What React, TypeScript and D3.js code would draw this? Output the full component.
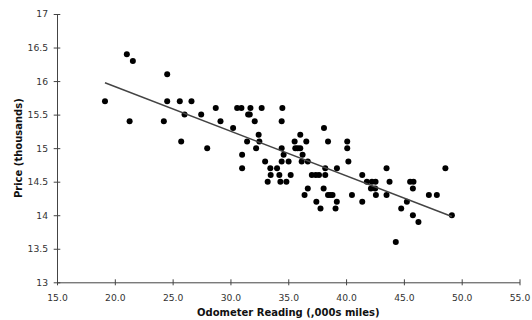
import { useEffect, useRef } from 'react'
import * as d3 from 'd3'

// odometer reading (,000s miles) and price (thousands)
const odometer = [
  19.15, 21.04, 21.56, 21.28, 24.53, 24.24, 24.53, 25.62, 25.74, 26.63,
  26.03, 27.47, 27.99, 28.73, 29.14, 30.23, 30.58, 30.95, 31.73, 32.7,
  31.53, 31.67, 32.1, 34.49, 34.43, 32.44, 31.44, 32.5, 32.22, 31.01,
  31.01, 33.0, 33.45, 34.03, 33.48, 34.23, 33.22, 34.32, 34.84, 35.21,
  34.43, 34.6, 34.43, 35.03, 36.04, 35.55, 36.56, 35.61, 35.81, 36.04,
  36.24, 36.16, 36.69, 38.09, 38.44, 37.04, 37.38, 37.66, 38.2, 38.2,
  39.21, 36.69, 36.41, 38.06, 38.44, 38.64, 38.83, 37.43, 37.79, 39.2,
  39.09, 40.1, 40.1, 40.2, 40.51, 41.4, 41.4, 41.8, 42.24, 42.55,
  42.15, 42.52, 42.58, 43.5, 43.76, 43.5, 45.54, 45.83, 45.78, 45.26,
  44.77, 45.78, 46.26, 47.16, 47.85, 48.59, 49.15, 44.3,
]
const price = [
  15.7, 16.4, 16.3, 15.4, 16.1, 15.4, 15.7, 15.7, 15.1, 15.7,
  15.5, 15.5, 15.0, 15.6, 15.4, 15.3, 15.6, 15.6, 15.6, 15.6,
  15.5, 15.5, 15.4, 15.6, 15.4, 15.2, 15.1, 15.1, 15.0, 14.9,
  14.7, 14.8, 14.7, 14.7, 14.6, 14.6, 14.5, 14.5, 14.5, 14.6,
  15.0, 14.9, 14.8, 14.8, 15.2, 15.1, 15.1, 15.0, 15.0, 15.0,
  14.9, 14.8, 14.8, 15.3, 15.1, 14.6, 14.6, 14.6, 14.6, 14.7,
  14.7, 14.4, 14.3, 14.4, 14.3, 14.3, 14.3, 14.2, 14.1, 14.2,
  14.1, 15.1, 15.0, 14.8, 14.3, 14.6, 14.2, 14.5, 14.5, 14.5,
  14.4, 14.4, 14.3, 14.7, 14.5, 14.3, 14.5, 14.5, 14.4, 14.2,
  14.1, 14.0, 13.9, 14.3, 14.3, 14.7, 14.0, 13.6,
]

// fitted trend line (price = intercept + slope * odometer)
const trendIntercept = 17.249
const trendSlope = -0.0665

const xTicks = [15, 20, 25, 30, 35, 40, 45, 50, 55]
const yTicks = [13, 13.5, 14, 14.5, 15, 15.5, 16, 16.5, 17]

const W = 532
const H = 320

export default function App() {
  const svgRef = useRef<SVGSVGElement | null>(null)

  useEffect(() => {
    if (!svgRef.current) return
    const svg = d3.select(svgRef.current)
    svg.selectAll('*').remove()

    const left = 57, right = 519.5, top = 14, bottom = 282.3
    const x = d3.scaleLinear().domain([15, 55]).range([left, right])
    const y = d3.scaleLinear().domain([13, 17]).range([bottom, top])
    const font = "'DejaVu Sans', Verdana, sans-serif"
    const axisColor = '#444'

    // x axis, ticks cross the line
    const xa = svg.append('g').attr('transform', `translate(0,${bottom})`)
      .call(d3.axisBottom(x).tickValues(xTicks).tickSize(3).tickSizeOuter(0).tickFormat(d3.format('.1f')))
    xa.select('.domain').attr('stroke', axisColor)
    xa.selectAll('line').attr('stroke', axisColor).attr('y1', -3)
    xa.selectAll('text').attr('font-family', font).attr('font-size', 9.2).attr('fill', '#333').attr('y', 12)

    // y axis
    const ya = svg.append('g').attr('transform', `translate(${left},0)`)
      .call(d3.axisLeft(y).tickValues(yTicks).tickSize(3.3).tickSizeOuter(0).tickFormat(d => String(d)))
    ya.select('.domain').attr('stroke', axisColor)
    ya.selectAll('line').attr('stroke', axisColor).attr('x1', 3.3)
    ya.selectAll('text').attr('font-family', font).attr('font-size', 9.2).attr('fill', '#333').attr('x', -9)

    // points
    svg.append('g').selectAll('circle').data(odometer).enter().append('circle')
      .attr('cx', d => x(d)).attr('cy', (_, i) => y(price[i])).attr('r', 3).attr('fill', '#000')

    // trend line over the data range
    const [x0, x1] = d3.extent(odometer) as [number, number]
    svg.append('line')
      .attr('x1', x(x0)).attr('y1', y(trendIntercept + trendSlope * x0))
      .attr('x2', x(x1)).attr('y2', y(trendIntercept + trendSlope * x1))
      .attr('stroke', '#444').attr('stroke-width', 1.5)

    // titles
    svg.append('text').attr('x', (left + right) / 2).attr('y', 315.5)
      .attr('text-anchor', 'middle').attr('font-family', font).attr('font-size', 10)
      .attr('font-weight', 'bold').attr('fill', '#111')
      .text('Odometer Reading (,000s miles)')
    svg.append('text').attr('transform', `translate(21.5,${(top + bottom) / 2}) rotate(-90)`)
      .attr('text-anchor', 'middle').attr('font-family', font).attr('font-size', 10)
      .attr('font-weight', 'bold').attr('fill', '#111')
      .text('Price (thousands)')
  }, [])

  return (
    <svg ref={svgRef} width={W} height={H} viewBox={`0 0 ${W} ${H}`}
      style={{ position: 'absolute', left: 0, top: 0, background: '#fff' }} />
  )
}
